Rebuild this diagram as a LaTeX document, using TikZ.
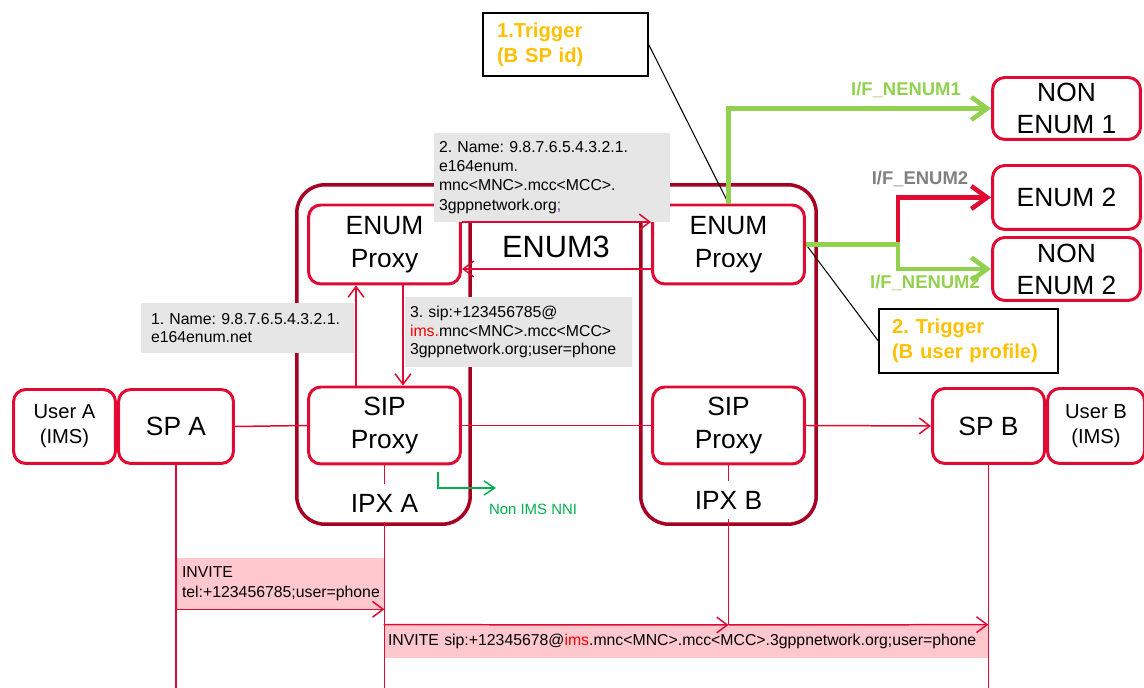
\documentclass[tikz,border=0pt]{standalone}
\usepackage{fontspec}
\setmainfont{Liberation Sans}
\usetikzlibrary{arrows.meta}
\definecolor{boxred}{RGB}{225,10,50}
\definecolor{ipxred}{RGB}{165,0,33}
\definecolor{ifgreen}{RGB}{146,208,80}
\definecolor{nnigreen}{RGB}{0,176,80}
\definecolor{trigorange}{RGB}{255,192,0}
\definecolor{notegray}{RGB}{230,230,230}
\definecolor{invpink}{RGB}{255,199,206}
\definecolor{imsred}{RGB}{255,0,0}
\definecolor{semipurple}{RGB}{112,48,160}
\frenchspacing

\begin{document}
\begin{tikzpicture}[x=0.02cm,y=-0.02cm,
  elem/.style={draw=boxred,line width=1.7pt,rounded corners=7pt,fill=white,align=center,inner sep=0pt,font=\fontsize{15}{19}\selectfont},
  ipx/.style={draw=ipxred,line width=2pt,rounded corners=16pt,inner sep=0pt},
  ipxlabel/.style={fill=white,inner xsep=2pt,inner ysep=5.5pt,text height=11pt,text depth=0pt,font=\fontsize{15}{19}\selectfont},
  note/.style={fill=notegray,align=left,inner ysep=0pt,font=\fontsize{9}{10.7}\selectfont},
  invite/.style={fill=invpink,align=left,inner ysep=0pt,font=\fontsize{9}{11.4}\selectfont},
  trigger/.style={draw=black,line width=0.8pt,fill=white,align=left,inner ysep=0pt,text=trigorange,font=\fontsize{11.5}{14.2}\selectfont\bfseries},
  wire/.style={draw=boxred,line width=0.85pt},
  sig/.style={wire,-{Straight Barb[length=6pt,width=9pt]}},
  ifline/.style={line width=2.6pt,-{Straight Barb[length=9pt,width=13pt]}},
  iflabel/.style={font=\fontsize{10.5}{12}\selectfont\bfseries},
]
\useasboundingbox (0,0) rectangle (1144,688);

\node[ipx,minimum width=3.47cm,minimum height=6.79cm] (ipxa) at (383.5,354.5) {};
\node[ipx,minimum width=3.51cm,minimum height=6.79cm] (ipxb) at (728.5,354.5) {};

\node[elem,minimum width=2.04cm,minimum height=1.48cm,font=\fontsize{11.5}{14.2}\selectfont] (usera) at (64.5,426.5) {User A\\(IMS)};
\node[elem,minimum width=2.3cm,minimum height=1.48cm] (spa) at (176,426.5) {SP A};
\node[elem,minimum width=3.04cm,minimum height=1.58cm] (enuma) at (384.5,244.5) {ENUM\\Proxy};
\node[elem,minimum width=3.04cm,minimum height=1.54cm] (sipa) at (384.5,425.5) {SIP\\Proxy};
\node[elem,minimum width=3.04cm,minimum height=1.58cm] (enumb) at (728.5,244.5) {ENUM\\Proxy};
\node[elem,minimum width=3.04cm,minimum height=1.54cm] (sipb) at (728.5,425.5) {SIP\\Proxy};
\node[elem,minimum width=2.24cm,minimum height=1.5cm] (spb) at (988.5,426) {SP B};
\node[elem,minimum width=1.94cm,minimum height=1.5cm,font=\fontsize{11.5}{14.2}\selectfont] (userb) at (1096,426) {User B\\(IMS)};
\node[elem,minimum width=2.96cm,minimum height=1.24cm,font=\fontsize{15}{18.2}\selectfont] (nonenum1) at (1066.5,108.5) {NON\\ENUM 1};
\node[elem,minimum width=2.96cm,minimum height=1.28cm] (enum2) at (1066.5,197.5) {ENUM 2};
\node[elem,minimum width=2.96cm,minimum height=1.26cm,font=\fontsize{15}{18.2}\selectfont] (nonenum2) at (1066.5,269) {NON\\ENUM 2};

\node[font=\fontsize{17.5}{20}\selectfont] (enum3) at (556,247) {ENUM3};

\node[note,text width=3.86cm,inner xsep=0.2cm,minimum height=1.0cm] (name1) at (247.5,328) {\mbox{1. Name: 9.8.7.6.5.4.3.2.1.}\\e164enum.net};
\node[note,text width=4.34cm,inner xsep=0.1cm,minimum height=1.4cm] (sipuri) at (518.5,332) {3. sip:+123456785@\\\textcolor{imsred}{ims.}mnc<MNC>.mcc<MCC>\\\mbox{3gppnetwork.org;user=phone}};
\node[note,text width=4.52cm,inner xsep=0.1cm,minimum height=1.78cm,font=\fontsize{9}{10.9}\selectfont] (name2) at (552,177.5) {\mbox{2. Name: 9.8.7.6.5.4.3.2.1.}\\e164enum.\\mnc<MNC>.mcc<MCC>.\\3gppnetwork.org\textcolor{semipurple}{;}};

\node[invite,text width=3.92cm,inner xsep=0.12cm,minimum height=1.02cm] (inv1) at (280,583.5) {INVITE\\\mbox{tel:+123456785;user=phone}};
\node[invite,text width=11.92cm,inner xsep=0.08cm,minimum height=0.66cm] (inv2) at (686,641.5) {\mbox{INVITE sip:+12345678@\textcolor{imsred}{ims}.mnc<MNC>.mcc<MCC>.3gppnetwork.org;user=phone}};

\coordinate (spaend) at (176,688);
\coordinate (ipxaend) at (384.5,688);
\coordinate (ipxbend) at (728.5,625);
\coordinate (spbend) at (988.5,688);
\draw[wire] (spa.south) -- (spaend);
\draw[wire] (sipa.south) -- (ipxaend);
\draw[wire] (sipb.south) -- (ipxbend);
\draw[wire] (spb.south) -- (spbend);

\node[ipxlabel] (ipxalbl) at (384.5,503) {IPX A};
\node[ipxlabel] (ipxblbl) at (728.5,500) {IPX B};

\draw[wire] (spa.east) -- (sipa.west);
\draw[wire] (sipa.east) -- (sipb.west);
\draw[sig] (sipb.east) -- (spb.west);
\draw[sig] ([yshift=0.45cm]enuma.east) -- ([yshift=0.45cm]enumb.west);
\draw[sig] ([yshift=-0.49cm]enumb.west) -- ([yshift=-0.49cm]enuma.east);
\draw[sig] ([xshift=-0.57cm]sipa.north) -- ([xshift=-0.57cm]enuma.south);
\draw[sig] ([xshift=0.37cm]enuma.south) -- ([xshift=0.37cm]sipa.north);

\draw[sig] (inv1.south west) -- (inv1.south east);
\draw[sig] (inv2.north west) -- (ipxbend);
\draw[sig] (ipxbend) -- (inv2.north east);

\coordinate (nnistart) at (438,472);
\coordinate (nniend) at (496,488);
\draw[nnigreen,line width=0.85pt,-{Straight Barb[length=6pt,width=8pt]}] (nnistart) |- (nniend);
\node[text=nnigreen,font=\fontsize{8.5}{10}\selectfont] (nnilbl) at (533,509) {Non IMS NNI};

\node[trigger,text width=2.74cm,inner xsep=0.28cm,minimum height=1.26cm] (trig1) at (565.5,44.5) {1.Trigger\\(B SP id)};
\node[trigger,text width=3.06cm,inner xsep=0.26cm,minimum height=1.28cm] (trig2) at (968.5,341) {2. Trigger\\(B user profile)};
\draw[black,line width=0.6pt] (trig1.east) -- (enumb.north);
\draw[black,line width=0.6pt] (enumb.east) -- (trig2.west);

\coordinate (split) at (898,244.5);
\draw[ifline,draw=boxred] (split) |- (enum2.west);
\draw[ifline,draw=ifgreen] (enumb.north) |- (nonenum1.west);
\draw[ifline,draw=ifgreen] (enumb.east) -- (split) |- (nonenum2.west);

\node[iflabel,text=ifgreen] (nenum1lbl) at (906,90) {I/F\_NENUM1};
\node[iflabel,text=gray] (enum2lbl) at (920,179) {I/F\_ENUM2};
\node[iflabel,text=ifgreen] (nenum2lbl) at (925,283) {I/F\_NENUM2};
\end{tikzpicture}
\end{document}
